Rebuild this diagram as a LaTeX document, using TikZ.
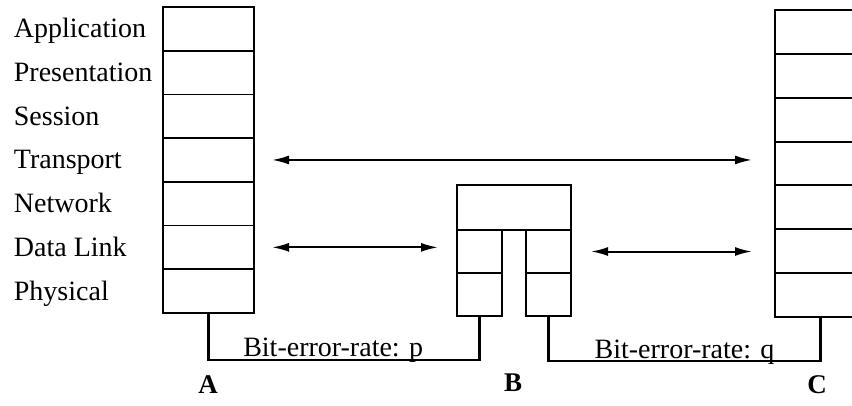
\documentclass[tikz,border=0pt]{standalone}
\usepackage{fontspec}
\setmainfont{Liberation Serif}
\usetikzlibrary{arrows.meta}
\begin{document}
\begin{tikzpicture}[x=1pt, y=-1pt, line width=1.8pt,
	layer/.style={draw, minimum width=91pt, minimum height=43.7pt, inner sep=0pt, outer sep=0pt},
	cell/.style={draw, minimum width=45pt, minimum height=43pt, inner sep=0pt, outer sep=0pt},
	wire/.style={line width=2.8pt},
	arr/.style={{Latex[length=17pt,width=9pt]}-{Latex[length=17pt,width=9pt]}, line width=2pt},
	lbl/.style={font=\fontsize{28}{32}\selectfont, inner sep=0pt}]
	\useasboundingbox (0,0) rectangle (852,405);
	\clip (0,0) rectangle (852,405);
	
	%stack A and layer names
	\foreach \i/\name in {1/Application, 2/Presentation, 3/Session, 4/Transport, 5/Network, 6/Data Link, 7/Physical}{
		\node[layer] (a\i) at (208.5, {43.7*\i-14.85}) {};
		\node[lbl, anchor=base west] (n\i) at (13, {43.7*\i-5.85}) {\name};
	}
	
	%stack C
	\foreach \i in {1,...,7}{
		\node[layer] (c\i) at (820.5, {43.85*\i-11.9}) {};
	}
	
	%router B
	\node[draw, minimum width=114pt, minimum height=45pt, inner sep=0pt, outer sep=0pt] (btop) at (514, 207.5) {};
	\node[cell] (bl1) at (479.5, 251.5) {};
	\node[cell] (bl2) at (479.5, 294.5) {};
	\node[cell] (br1) at (548.5, 251.5) {};
	\node[cell] (br2) at (548.5, 294.5) {};
	
	%links
	\draw[wire] (a7.south) -- ++(0,47) -| node[lbl, pos=0.23, anchor=base, yshift=3pt]{Bit-error-rate: p} (bl2.south);
	\draw[wire] (br2.south) -- ++(0,45) -| node[lbl, pos=0.25, anchor=base, yshift=3pt]{Bit-error-rate: q} (c7.south);
	
	%peer arrows
	\draw[arr] ([xshift=18pt]a4.east) -- ([xshift=-23pt]a4.east -| c4.west);
	\draw[arr] ([xshift=18pt]a6.east) -- ([xshift=-19pt]a6.east -| bl1.west);
	\draw[arr] ([xshift=20pt]br1.east) -- ([xshift=-23pt]br1.east -| c6.west);
	
	%host names
	\node[lbl, font=\fontsize{27}{30}\selectfont\bfseries] (hA) at (208, 385) {A};
	\node[lbl, font=\fontsize{27}{30}\selectfont\bfseries] (hB) at (513, 383) {B};
	\node[lbl, font=\fontsize{27}{30}\selectfont\bfseries] (hC) at (817, 385) {C};
\end{tikzpicture}
\end{document}
